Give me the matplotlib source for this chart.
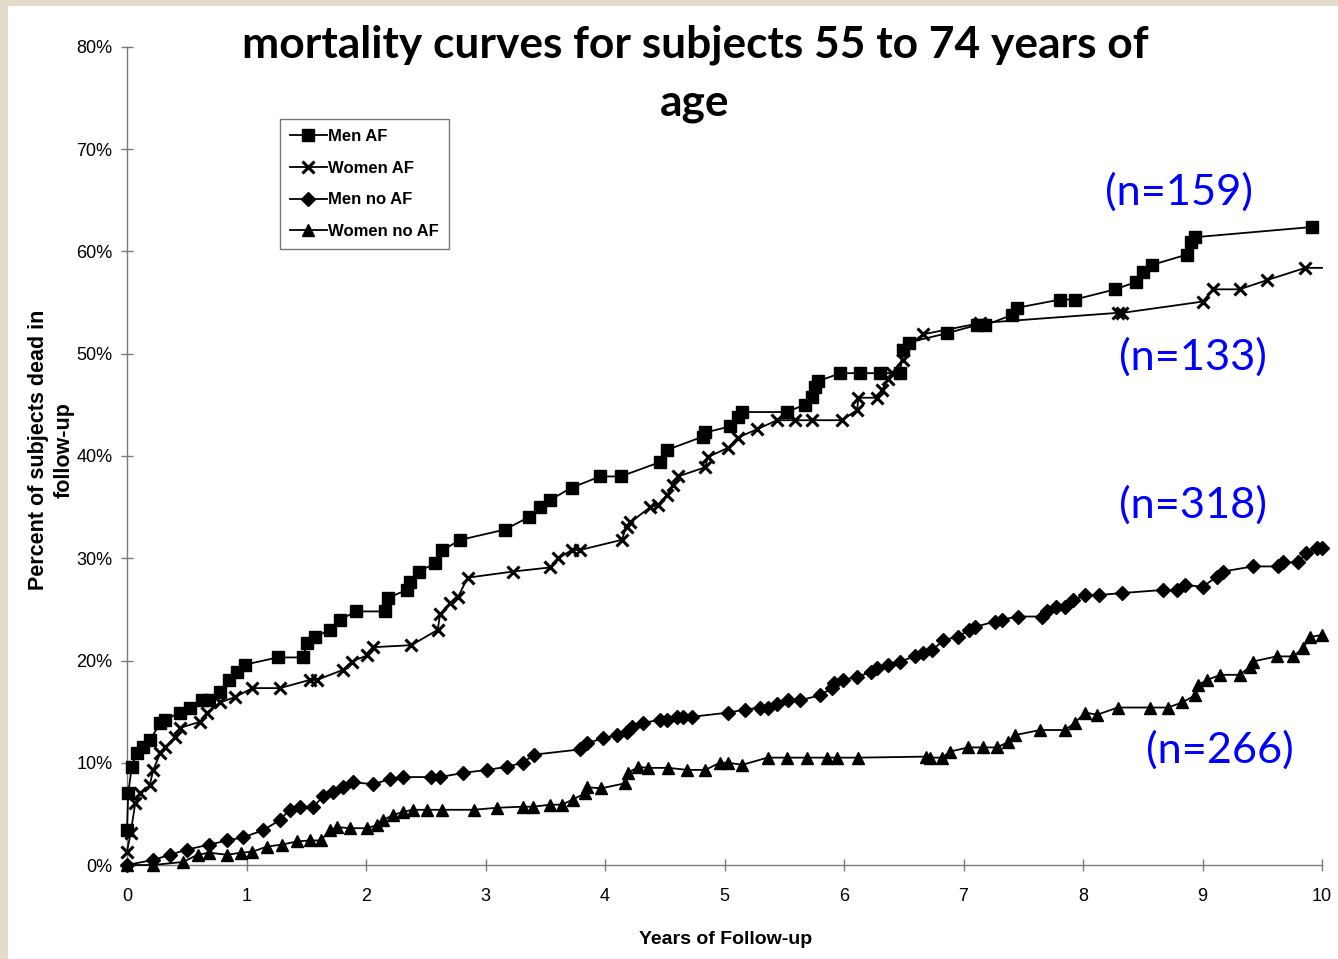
import matplotlib
matplotlib.use("Agg")
import matplotlib.pyplot as plt
from matplotlib import font_manager
from matplotlib.patches import Rectangle
from matplotlib.ticker import FuncFormatter

# ---------------- data (years, percent dead) ----------------
men_af_x = [0, 0.01, 0.04, 0.08, 0.13, 0.19, 0.28, 0.32, 0.44, 0.53, 0.63, 0.69, 0.78, 0.85, 0.92, 0.99,
            1.26, 1.47, 1.51, 1.57, 1.70, 1.78, 1.92, 2.16, 2.18, 2.34, 2.37, 2.44, 2.58, 2.64, 2.79,
            3.16, 3.36, 3.46, 3.54, 3.72, 3.96, 4.13, 4.46, 4.52, 4.82, 4.84, 5.05, 5.11, 5.15, 5.52,
            5.67, 5.73, 5.76, 5.78, 5.97, 6.13, 6.30, 6.47, 6.49, 6.54, 6.86, 7.11, 7.18, 7.41, 7.45,
            7.81, 7.93, 8.27, 8.44, 8.50, 8.58, 8.87, 8.90, 8.94, 9.92]
men_af_y = [3.4, 7.0, 9.6, 11.0, 11.5, 12.2, 13.9, 14.2, 14.9, 15.4, 16.1, 16.1, 16.9, 18.1, 18.9, 19.6,
            20.3, 20.3, 21.7, 22.3, 23.0, 24.0, 24.8, 24.8, 26.1, 26.9, 27.7, 28.7, 29.5, 30.8, 31.8,
            32.8, 34.0, 35.0, 35.7, 36.9, 38.0, 38.0, 39.4, 40.6, 41.9, 42.3, 42.9, 43.8, 44.3, 44.3,
            45.0, 45.8, 46.7, 47.3, 48.1, 48.1, 48.1, 48.1, 50.4, 51.1, 52.0, 52.8, 52.8, 53.8, 54.5,
            55.3, 55.3, 56.3, 57.0, 58.0, 58.7, 59.7, 60.9, 61.4, 62.4]

women_af_x = [0, 0.03, 0.07, 0.11, 0.19, 0.22, 0.28, 0.32, 0.40, 0.44, 0.61, 0.67, 0.78, 0.90, 1.05, 1.28,
              1.53, 1.59, 1.81, 1.88, 2.01, 2.06, 2.38, 2.60, 2.62, 2.70, 2.77, 2.85, 3.23, 3.54, 3.61,
              3.72, 3.79, 4.14, 4.18, 4.21, 4.38, 4.44, 4.52, 4.57, 4.61, 4.84, 4.86, 5.03, 5.11, 5.27,
              5.44, 5.59, 5.73, 5.98, 6.11, 6.12, 6.28, 6.32, 6.37, 6.40, 6.49, 6.49, 6.66, 7.14, 8.29,
              8.33, 9.00, 9.09, 9.31, 9.54, 9.86, 10.0]
women_af_y = [1.3, 3.1, 6.1, 7.0, 7.8, 9.3, 11.0, 11.5, 12.5, 13.4, 14.0, 14.9, 15.9, 16.4, 17.3, 17.3,
              18.1, 18.1, 19.1, 19.9, 20.5, 21.3, 21.5, 23.0, 24.5, 25.6, 26.2, 28.1, 28.7, 29.1, 30.0,
              30.8, 30.8, 31.8, 33.1, 33.5, 35.0, 35.2, 36.2, 37.2, 38.0, 38.9, 39.9, 40.8, 41.8, 42.6,
              43.5, 43.5, 43.5, 43.5, 44.5, 45.7, 45.7, 46.5, 47.5, 48.1, 49.4, 50.4, 51.9, 53.0, 54.0,
              54.0, 55.1, 56.3, 56.3, 57.2, 58.4, 58.4]

men_noaf_x = [0, 0.22, 0.36, 0.50, 0.69, 0.84, 0.97, 1.14, 1.28, 1.36, 1.45, 1.56, 1.64, 1.72, 1.81, 1.89,
              2.06, 2.20, 2.31, 2.54, 2.62, 2.81, 3.01, 3.18, 3.31, 3.41, 3.79, 3.85, 3.98, 4.10, 4.18,
              4.23, 4.32, 4.46, 4.52, 4.60, 4.65, 4.73, 5.03, 5.17, 5.30, 5.36, 5.44, 5.53, 5.63, 5.80,
              5.90, 5.92, 5.99, 6.11, 6.23, 6.28, 6.37, 6.47, 6.59, 6.66, 6.74, 6.83, 6.95, 7.05, 7.10,
              7.26, 7.32, 7.46, 7.66, 7.70, 7.77, 7.85, 7.92, 8.02, 8.13, 8.33, 8.67, 8.79, 8.85, 9.00,
              9.12, 9.17, 9.42, 9.63, 9.67, 9.80, 9.87, 9.96, 10.0]
men_noaf_y = [0.0, 0.5, 1.0, 1.5, 2.0, 2.4, 2.7, 3.4, 4.4, 5.4, 5.7, 5.7, 6.7, 7.1, 7.6, 8.1,
              7.9, 8.4, 8.6, 8.6, 8.6, 9.0, 9.3, 9.6, 10.0, 10.8, 11.3, 11.9, 12.4, 12.7, 13.0,
              13.5, 13.9, 14.2, 14.2, 14.5, 14.5, 14.5, 14.9, 15.2, 15.4, 15.4, 15.7, 16.1, 16.1, 16.6,
              17.3, 17.8, 18.1, 18.4, 18.9, 19.3, 19.6, 19.9, 20.4, 20.7, 21.0, 22.0, 22.3, 23.0, 23.3,
              23.8, 24.0, 24.3, 24.3, 24.8, 25.2, 25.2, 25.9, 26.4, 26.4, 26.6, 26.9, 26.9, 27.4, 27.2,
              28.2, 28.7, 29.2, 29.2, 29.6, 29.6, 30.5, 31.0, 31.0]

women_noaf_x = [0, 0.22, 0.47, 0.59, 0.69, 0.84, 0.95, 1.05, 1.17, 1.30, 1.42, 1.53, 1.62, 1.70, 1.76, 1.87,
                2.01, 2.09, 2.14, 2.23, 2.31, 2.39, 2.51, 2.64, 2.90, 3.10, 3.31, 3.40, 3.54, 3.64, 3.73,
                3.83, 3.85, 3.97, 4.17, 4.19, 4.28, 4.36, 4.53, 4.69, 4.84, 4.96, 5.03, 5.15, 5.36, 5.52,
                5.69, 5.86, 5.94, 6.12, 6.69, 6.72, 6.82, 6.89, 7.04, 7.16, 7.28, 7.37, 7.43, 7.64, 7.85,
                7.93, 8.02, 8.12, 8.29, 8.56, 8.71, 8.83, 8.94, 8.96, 9.04, 9.15, 9.31, 9.40, 9.42, 9.62,
                9.76, 9.84, 9.90, 10.0]
women_noaf_y = [0.0, 0.0, 0.3, 1.0, 1.2, 1.0, 1.2, 1.3, 1.8, 2.0, 2.3, 2.4, 2.4, 3.4, 3.7, 3.6,
                3.6, 3.9, 4.4, 4.9, 5.2, 5.4, 5.4, 5.4, 5.4, 5.6, 5.7, 5.7, 5.9, 5.9, 6.4,
                7.0, 7.6, 7.5, 8.0, 9.0, 9.6, 9.5, 9.5, 9.3, 9.3, 10.0, 10.0, 9.8, 10.5, 10.5,
                10.5, 10.5, 10.5, 10.5, 10.6, 10.5, 10.5, 11.1, 11.5, 11.5, 11.5, 12.0, 12.7, 13.2, 13.2,
                13.9, 14.9, 14.7, 15.4, 15.4, 15.4, 15.9, 16.6, 17.6, 18.1, 18.6, 18.6, 19.4, 19.9, 20.4,
                20.4, 21.2, 22.3, 22.5]

series_labels = ["Men AF", "Women AF", "Men no AF", "Women no AF"]
y_ticks = [0, 10, 20, 30, 40, 50, 60, 70, 80]
x_ticks = [0, 1, 2, 3, 4, 5, 6, 7, 8, 9, 10]
n_labels = ["(n=159)", "(n=133)", "(n=318)", "(n=266)"]
title_text = "mortality curves for subjects 55 to 74 years of\nage"
ylabel_text = "Percent of subjects dead in\nfollow-up"
xlabel_text = "Years of Follow-up"

# ---------------- fonts ----------------
names = {f.name for f in font_manager.fontManager.ttflist}
narrow = "Liberation Sans Narrow" if "Liberation Sans Narrow" in names else "Liberation Sans"
title_font = "Lato" if "Lato" in names else "DejaVu Sans"

W, H = 1338, 959
fig = plt.figure(figsize=(W / 100, H / 100), dpi=100)
fig.patch.set_facecolor("#e4dccb")
fig.patches.append(Rectangle((8 / W, 0), 1 - 8 / W, 1 - 6 / H, transform=fig.transFigure,
                             facecolor="white", edgecolor="none", zorder=-10))

def fx(px):
    return px / W

def fy(py):
    return 1 - py / H

ax_left, ax_right, ax_top, ax_bot = 127, 1322, 47, 865
ax = fig.add_axes([fx(ax_left), fy(ax_bot), (ax_right - ax_left) / W, (ax_bot - ax_top) / H])
ax.set_zorder(5)
ax.set_facecolor("none")
ax.set_xlim(0, 10)
ax.set_ylim(0, 80)

lw = 1.3
ax.plot(men_af_x, men_af_y, color="black", lw=lw, marker="s", ms=8.5, label=series_labels[0], zorder=4)
ax.plot(women_af_x, women_af_y, color="black", lw=lw, marker="x", ms=9, mew=2.2,
        markevery=list(range(len(women_af_x) - 1)), label=series_labels[1], zorder=3)
ax.plot(men_noaf_x, men_noaf_y, color="black", lw=lw, marker="D", ms=7.5, label=series_labels[2], zorder=3)
ax.plot(women_noaf_x, women_noaf_y, color="black", lw=lw, marker="^", ms=8.5, label=series_labels[3], zorder=3)

for s in ["top", "right"]:
    ax.spines[s].set_visible(False)
for s in ["left", "bottom"]:
    ax.spines[s].set_color("#7a7a7a")
    ax.spines[s].set_linewidth(1.0)
ax.set_xticks(x_ticks)
ax.set_yticks(y_ticks)
ax.yaxis.set_major_formatter(FuncFormatter(lambda v, p: f"{int(v)}%"))
ax.tick_params(axis="both", direction="inout", length=9, width=1, color="#7a7a7a",
               labelsize=13, labelcolor="black")
ax.tick_params(axis="y", pad=6)
ax.tick_params(axis="x", pad=12)
for lab in ax.get_xticklabels() + ax.get_yticklabels():
    lab.set_fontfamily(narrow)

for line in ax.get_lines():
    line.set_clip_on(False)

leg = ax.legend(loc="upper left", bbox_to_anchor=((280 - ax_left) / (ax_right - ax_left),
                                                 (ax_bot - 119) / (ax_bot - ax_top)),
                borderaxespad=0, frameon=True, fancybox=False, numpoints=1,
                prop={"family": narrow, "weight": "bold", "size": 12},
                handlelength=2.2, handletextpad=0.1, labelspacing=1.0, borderpad=0.6)
leg.get_frame().set_edgecolor("#555555")
leg.get_frame().set_linewidth(1.0)

# axis labels
fig.text(fx(51), fy(450), ylabel_text, rotation=90, ha="center", va="center",
         multialignment="center", fontsize=15.5, fontweight="bold", family="Liberation Sans",
         linespacing=1.3)
fig.text(fx(726), fy(940), xlabel_text, ha="center", va="center", fontsize=14,
         fontweight="bold", family=narrow)

# title fitted to width
renderer = fig.canvas.get_renderer()
t = fig.text(fx(695), fy(45), title_text.split("\n")[0], ha="center", va="center",
             fontsize=28, fontweight="bold", family=title_font)
wpx = t.get_window_extent(renderer).width
fs_title = 28 * 905 / wpx
t.set_fontsize(fs_title)
fig.text(fx(695), fy(103), title_text.split("\n")[1], ha="center", va="center",
         fontsize=fs_title, fontweight="bold", family=title_font)

# n annotations
n_pos = [(1179, 192), (1193, 357), (1193, 505), (1220, 750)]
for lab, (px, py) in zip(n_labels, n_pos):
    tt = fig.text(fx(px), fy(py), lab, ha="center", va="center", fontsize=28,
                  color="#0000ff", family=title_font)
    w = tt.get_window_extent(renderer).width
    tt.set_fontsize(28 * 148 / w)

fig.savefig("out.png", dpi=100, facecolor=fig.get_facecolor())
